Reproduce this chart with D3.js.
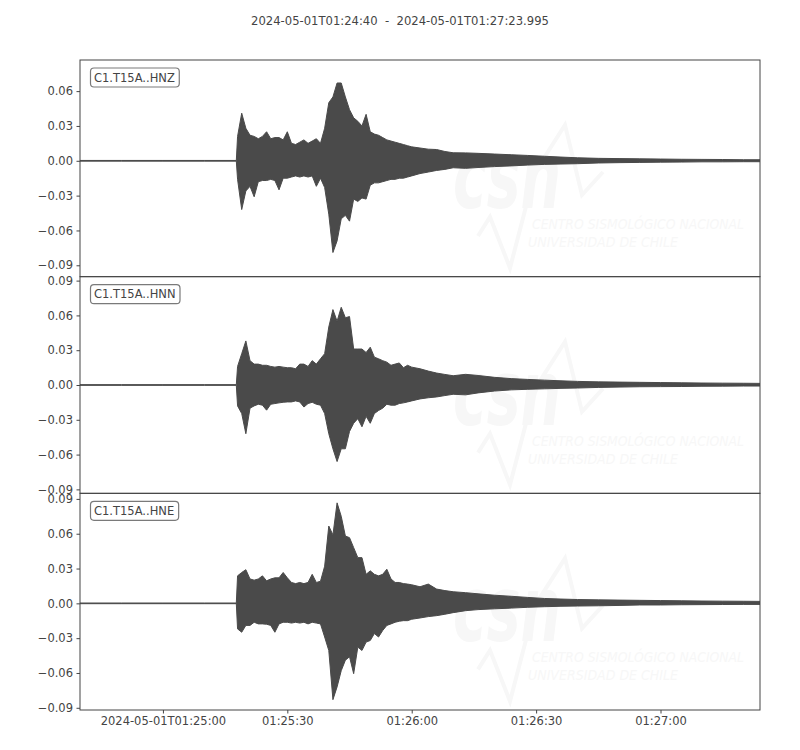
<!DOCTYPE html>
<html>
<head>
<meta charset="utf-8">
<script src="https://cdn.jsdelivr.net/npm/d3@7"></script>
<style>
  body { margin: 0; background: #fff; }
  svg text { font-family: "DejaVu Sans", sans-serif; }
</style>
</head>
<body>
<div id="chart"></div>
<script>
const startTime = "2024-05-01T01:24:40";
const endTime = "2024-05-01T01:27:23.995";
const channelNames = ["C1.T15A..HNZ", "C1.T15A..HNN", "C1.T15A..HNE"];

// seconds after start time, one min/max pair of the trace per step
const secs = [0, 10, 20, 30, 37.7,
  38, 39, 40, 41, 42, 43, 44, 45, 46, 47, 48, 49, 50, 51, 52, 53, 54, 55, 56, 57, 58, 59,
  60, 61, 62, 63, 64, 65, 66, 67, 68, 69, 70, 71, 72, 73, 74, 75, 76, 77, 78, 79, 80,
  82, 84, 86, 88, 90,
  93, 96, 100, 104, 108, 112, 116, 120, 125, 130, 135, 140, 145, 150, 155, 160, 164];

const hnzMax = [0.0003, 0.0003, 0.0003, 0.0003, 0.0003,
  0.021, 0.041, 0.028, 0.022, 0.021, 0.019, 0.021, 0.025, 0.019, 0.020, 0.020, 0.018, 0.025, 0.015, 0.014, 0.016, 0.018, 0.015, 0.017, 0.019, 0.015, 0.028,
  0.050, 0.055, 0.067, 0.067, 0.055, 0.044, 0.037, 0.034, 0.030, 0.040, 0.025, 0.023, 0.022, 0.020, 0.018, 0.017, 0.016, 0.015, 0.014, 0.013, 0.012,
  0.011, 0.010, 0.0097, 0.008, 0.0069,
  0.0068, 0.0064, 0.0058, 0.0052, 0.0046, 0.0039, 0.0032, 0.0026, 0.0021, 0.0019, 0.0017, 0.0015, 0.0013, 0.0012, 0.0011, 0.0009, 0.0009];
const hnzMin = [-0.0003, -0.0003, -0.0003, -0.0003, -0.0003,
  -0.016, -0.042, -0.026, -0.022, -0.031, -0.018, -0.017, -0.017, -0.016, -0.017, -0.025, -0.015, -0.015, -0.014, -0.013, -0.014, -0.013, -0.014, -0.013, -0.022, -0.015, -0.023,
  -0.046, -0.079, -0.069, -0.050, -0.047, -0.052, -0.033, -0.035, -0.032, -0.033, -0.021, -0.019, -0.019, -0.018, -0.017, -0.016, -0.016, -0.015, -0.015, -0.014, -0.013,
  -0.011, -0.0097, -0.0083, -0.0074, -0.006,
  -0.0065, -0.0058, -0.005, -0.0044, -0.0037, -0.0031, -0.0028, -0.0025, -0.0019, -0.0016, -0.0014, -0.0012, -0.0011, -0.0009, -0.0009, -0.0008, -0.0008];

const hnnMax = [0.0003, 0.0003, 0.0003, 0.0003, 0.0003,
  0.016, 0.027, 0.038, 0.021, 0.018, 0.018, 0.017, 0.017, 0.016, 0.0154, 0.016, 0.0154, 0.0149, 0.0149, 0.014, 0.018, 0.018, 0.016, 0.021, 0.018, 0.0226, 0.027,
  0.050, 0.065, 0.055, 0.067, 0.058, 0.059, 0.031, 0.031, 0.031, 0.028, 0.0326, 0.024, 0.0226, 0.021, 0.0197, 0.017, 0.018, 0.019, 0.0149, 0.017, 0.0154,
  0.014, 0.012, 0.0103, 0.0091, 0.008,
  0.0092, 0.0082, 0.0066, 0.0055, 0.0048, 0.0042, 0.0036, 0.0031, 0.0027, 0.0025, 0.0023, 0.0021, 0.0019, 0.0017, 0.0016, 0.0015, 0.0014];
const hnnMin = [-0.0003, -0.0003, -0.0003, -0.0003, -0.0003,
  -0.018, -0.0246, -0.042, -0.020, -0.018, -0.0166, -0.0174, -0.0217, -0.0166, -0.016, -0.0154, -0.0149, -0.0146, -0.0146, -0.0137, -0.0146, -0.019, -0.016, -0.0149, -0.0166, -0.0174, -0.0246,
  -0.042, -0.055, -0.066, -0.055, -0.055, -0.040, -0.033, -0.029, -0.036, -0.027, -0.033, -0.0246, -0.022, -0.020, -0.0166, -0.0174, -0.0174, -0.016, -0.0154, -0.0146, -0.0137,
  -0.012, -0.011, -0.0103, -0.0091, -0.008,
  -0.0085, -0.0068, -0.0052, -0.0042, -0.0037, -0.0033, -0.0029, -0.0026, -0.0021, -0.0018, -0.0015, -0.0014, -0.0013, -0.0011, -0.001, -0.0009, -0.0009];

const hneMax = [0.0003, 0.0003, 0.0003, 0.0003, 0.0003,
  0.0237, 0.0266, 0.029, 0.021, 0.020, 0.021, 0.0237, 0.0194, 0.021, 0.022, 0.022, 0.0266, 0.022, 0.018, 0.017, 0.018, 0.017, 0.018, 0.025, 0.018, 0.019, 0.032,
  0.0666, 0.059, 0.0866, 0.075, 0.058, 0.0566, 0.048, 0.0394, 0.0394, 0.025, 0.028, 0.025, 0.0237, 0.025, 0.0294, 0.021, 0.018, 0.018, 0.017, 0.0166, 0.016,
  0.0143, 0.0166, 0.0123, 0.011, 0.010,
  0.0092, 0.0082, 0.007, 0.0061, 0.0051, 0.0042, 0.0037, 0.0033, 0.003, 0.0028, 0.0026, 0.0024, 0.0022, 0.002, 0.0019, 0.0018, 0.0017];
const hneMin = [-0.0003, -0.0003, -0.0003, -0.0003, -0.0003,
  -0.022, -0.0249, -0.019, -0.019, -0.0163, -0.0177, -0.0177, -0.018, -0.019, -0.0249, -0.0177, -0.0163, -0.0163, -0.017, -0.0163, -0.017, -0.0163, -0.0177, -0.0163, -0.017, -0.0177, -0.029,
  -0.0406, -0.083, -0.072, -0.058, -0.049, -0.046, -0.0606, -0.0377, -0.0406, -0.0334, -0.032, -0.026, -0.029, -0.0234, -0.019, -0.0177, -0.0163, -0.0154, -0.0149, -0.0149, -0.0137,
  -0.0126, -0.0114, -0.0106, -0.0094, -0.008,
  -0.0063, -0.0054, -0.0047, -0.0041, -0.0034, -0.0029, -0.0025, -0.0023, -0.0021, -0.0018, -0.0014, -0.0014, -0.0012, -0.0011, -0.001, -0.0009, -0.0009];

// y limits of each panel and their ticks
const yLimits = [[-0.0998, 0.0868], [-0.0934, 0.0934], [-0.0919, 0.0948]];
const yTicksTop = [0.06, 0.03, 0, -0.03, -0.06, -0.09];
const yTicksRest = [0.09, 0.06, 0.03, 0, -0.03, -0.06, -0.09];

const xTickTimes = ["2024-05-01T01:25:00", "2024-05-01T01:25:30", "2024-05-01T01:26:00", "2024-05-01T01:26:30", "2024-05-01T01:27:00"];
const xTickLabels = ["2024-05-01T01:25:00", "01:25:30", "01:26:00", "01:26:30", "01:27:00"];

const width = 800, height = 750;
const margin = { top: 60, right: 40, bottom: 40, left: 80 };
const plotW = width - margin.left - margin.right;
const panelH = (height - margin.top - margin.bottom) / 3;
const ink = "#444";
const wave = "#4a4a4a";
const faint = "#f7f7f7";

const t0 = new Date(startTime + "Z");
const toDate = s => new Date(t0.getTime() + s * 1000);

const channels = [
  { name: channelNames[0], max: hnzMax, min: hnzMin, ticks: yTicksTop },
  { name: channelNames[1], max: hnnMax, min: hnnMin, ticks: yTicksRest },
  { name: channelNames[2], max: hneMax, min: hneMin, ticks: yTicksRest }
];

const svg = d3.select("#chart").append("svg")
  .attr("width", width)
  .attr("height", height);

svg.append("text")
  .attr("x", 400)
  .attr("y", 25)
  .attr("text-anchor", "middle")
  .attr("font-size", "11.6px")
  .attr("fill", ink)
  .style("white-space", "pre")
  .text(`${startTime}  -  ${endTime}`);

const x = d3.scaleUtc()
  .domain([t0, new Date(endTime + "Z")])
  .range([margin.left, margin.left + plotW]);

channels.forEach((ch, i) => {
  const top = margin.top + i * panelH;
  const y = d3.scaleLinear()
    .domain(yLimits[i])
    .range([top + panelH, top]);

  const g = svg.append("g");

  g.append("clipPath").attr("id", `clip${i}`)
    .append("rect")
    .attr("x", margin.left).attr("y", top)
    .attr("width", plotW).attr("height", panelH);

  // CSN watermark
  const wm = g.append("g").attr("clip-path", `url(#clip${i})`);
  wm.append("path")
    .attr("d", d3.line()([[478, top + 176], [490, top + 157], [510, top + 208], [535, top + 112], [565, top + 65], [582, top + 135], [603, top + 112]]))
    .attr("fill", "none")
    .attr("stroke", faint)
    .attr("stroke-width", 4);
  wm.append("text")
    .attr("x", 453).attr("y", top + 148)
    .attr("font-size", "90px").attr("font-weight", "bold").attr("font-style", "italic")
    .attr("textLength", 108).attr("lengthAdjust", "spacingAndGlyphs")
    .attr("fill", faint)
    .text("csn");
  wm.append("text")
    .attr("x", 532).attr("y", top + 169)
    .attr("font-size", "14px").attr("font-style", "italic")
    .attr("textLength", 212).attr("lengthAdjust", "spacingAndGlyphs")
    .attr("fill", faint)
    .text("CENTRO SISMOLÓGICO NACIONAL");
  wm.append("text")
    .attr("x", 528).attr("y", top + 187)
    .attr("font-size", "14px").attr("font-style", "italic")
    .attr("textLength", 150).attr("lengthAdjust", "spacingAndGlyphs")
    .attr("fill", faint)
    .text("UNIVERSIDAD DE CHILE");

  // trace envelope
  const area = d3.area()
    .x(s => x(toDate(s)))
    .y0((s, k) => y(ch.min[k]))
    .y1((s, k) => y(ch.max[k]));

  g.append("path")
    .datum(secs)
    .attr("clip-path", `url(#clip${i})`)
    .attr("fill", wave)
    .attr("stroke", wave)
    .attr("stroke-width", 1)
    .attr("stroke-linejoin", "round")
    .attr("d", area);

  // y axis
  const ax = g.append("g")
    .attr("transform", `translate(${margin.left},0)`)
    .call(d3.axisLeft(y).tickValues(ch.ticks).tickSize(3.5).tickPadding(3.5).tickFormat(d3.format(".2f")));
  ax.select(".domain").remove();
  ax.selectAll("line").attr("stroke", ink);
  ax.selectAll("text").attr("fill", ink).attr("font-size", "11.5px").attr("font-family", "DejaVu Sans");

  // frame
  g.append("rect")
    .attr("x", margin.left).attr("y", top)
    .attr("width", plotW).attr("height", panelH)
    .attr("fill", "none")
    .attr("stroke", ink)
    .attr("stroke-width", 1);

  // channel label in a rounded box
  const box = g.append("rect");
  const lbl = g.append("text")
    .attr("x", 94).attr("y", top + 21.5)
    .attr("font-size", "11.5px")
    .attr("fill", ink)
    .text(ch.name);
  const tw = lbl.node().getComputedTextLength();
  box.attr("x", 90.5).attr("y", top + 8)
    .attr("width", tw + 8).attr("height", 19)
    .attr("rx", 3.5)
    .attr("fill", "#fff")
    .attr("stroke", "#7a7a7a")
    .attr("stroke-width", 1.2);
});

// time axis under the last panel
const xa = svg.append("g")
  .attr("transform", `translate(0,${margin.top + 3 * panelH})`)
  .call(d3.axisBottom(x)
    .tickValues(xTickTimes.map(s => new Date(s + "Z")))
    .tickSize(3.5).tickPadding(3.5)
    .tickFormat((d, k) => xTickLabels[k]));
xa.select(".domain").remove();
xa.selectAll("line").attr("stroke", ink);
xa.selectAll("text").attr("fill", ink).attr("font-size", "11.5px").attr("font-family", "DejaVu Sans");
</script>
</body>
</html>
